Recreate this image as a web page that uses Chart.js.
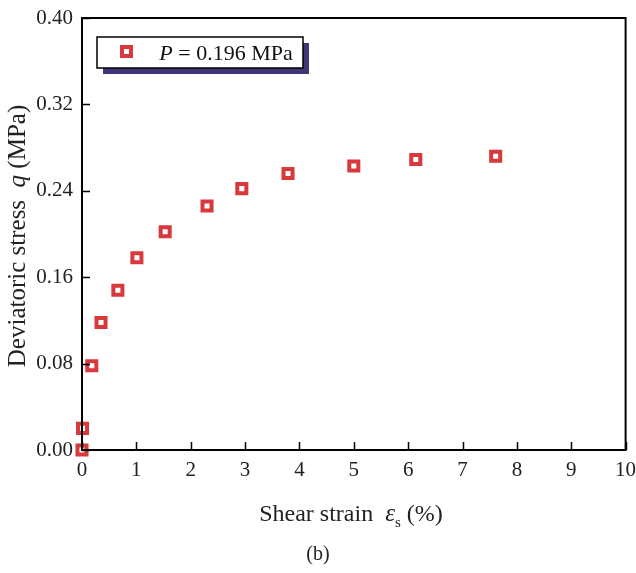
<!DOCTYPE html>
<html>
<head>
<meta charset="utf-8">
<script src="https://cdn.jsdelivr.net/npm/chart.js@4.4.1/dist/chart.umd.min.js"></script>
<style>
    html, body { margin: 0; padding: 0; background: #fff; }
    #wrap { width: 636px; height: 573px; position: relative; }
</style>
</head>
<body>
<div id="wrap"><canvas id="stress-chart" width="636" height="573"></canvas></div>
<script>
// Deviatoric stress vs shear strain, P = 0.196 MPa
const strainValues = [0, 0.01, 0.18, 0.35, 0.66, 1.01, 1.53, 2.30, 2.94, 3.79, 5.00, 6.14, 7.61];
const stressValues = [0, 0.020, 0.078, 0.118, 0.148, 0.178, 0.202, 0.226, 0.242, 0.256, 0.263, 0.269, 0.272];
const xTicks = [0, 1, 2, 3, 4, 5, 6, 7, 8, 9, 10];
const yTicks = [0, 0.08, 0.16, 0.24, 0.32, 0.40];
const seriesLabel = '0.196 MPa';

const RED = '#d7393c';
const SERIF = '"Liberation Serif", "Times New Roman", serif';

// frame, inward ticks, axis titles, legend, caption
const decorPlugin = {
    id: 'decor',
    afterDraw(chart) {
        const ctx = chart.ctx;
        const a = chart.chartArea;
        const xs = chart.scales.x;
        const ys = chart.scales.y;
        ctx.save();
        ctx.strokeStyle = '#000';
        ctx.lineWidth = 2;
        ctx.strokeRect(a.left, a.top, a.right - a.left, a.bottom - a.top);

        ctx.lineWidth = 1.5;
        ctx.beginPath();
        xTicks.forEach(v => {
            const px = Math.round(xs.getPixelForValue(v)) + 0.5;
            ctx.moveTo(px, a.bottom);
            ctx.lineTo(px, a.bottom - 8);
        });
        yTicks.forEach(v => {
            const py = Math.round(ys.getPixelForValue(v)) + 0.5;
            ctx.moveTo(a.left, py);
            ctx.lineTo(a.left + 8, py);
        });
        ctx.stroke();

        ctx.fillStyle = '#222';
        ctx.textBaseline = 'alphabetic';

        // x title
        drawParts(ctx, [
            { t: 'Shear strain  ', f: '24px ' + SERIF, dy: 0 },
            { t: 'ε', f: 'italic 25px ' + SERIF, dy: 0 },
            { t: 's', f: '15px ' + SERIF, dy: 6 },
            { t: ' (%)', f: '24px ' + SERIF, dy: 0 }
        ], 351, 521);

        // y title
        ctx.save();
        ctx.translate(25, 236);
        ctx.rotate(-Math.PI / 2);
        drawParts(ctx, [
            { t: 'Deviatoric stress  ', f: '25px ' + SERIF, dy: 0 },
            { t: 'q', f: 'italic 25px ' + SERIF, dy: 0 },
            { t: ' (MPa)', f: '25px ' + SERIF, dy: 0 }
        ], 0, 0);
        ctx.restore();

        // caption
        ctx.font = '20px ' + SERIF;
        ctx.textAlign = 'center';
        ctx.fillText('(b)', 318, 560);
        ctx.textAlign = 'left';

        // legend
        ctx.fillStyle = '#3d3676';
        ctx.fillRect(103, 43, 206, 31);
        ctx.fillStyle = '#fff';
        ctx.fillRect(97, 37, 206, 31);
        ctx.strokeStyle = '#000';
        ctx.lineWidth = 1.5;
        ctx.strokeRect(97, 37, 206, 31);
        ctx.strokeStyle = RED;
        ctx.lineWidth = 4;
        ctx.strokeRect(122, 47, 9, 9);
        ctx.fillStyle = '#111';
        drawParts(ctx, [
            { t: 'P', f: 'italic 22px ' + SERIF, dy: 0 },
            { t: ' = ' + seriesLabel, f: '22px ' + SERIF, dy: 0 }
        ], 226, 60);

        ctx.restore();
    }
};

function drawParts(ctx, parts, cx, y) {
    let total = 0;
    parts.forEach(p => { ctx.font = p.f; total += ctx.measureText(p.t).width; });
    let x = cx - total / 2;
    parts.forEach(p => {
        ctx.font = p.f;
        ctx.fillText(p.t, x, y + p.dy);
        x += ctx.measureText(p.t).width;
    });
}

new Chart(document.getElementById('stress-chart'), {
    type: 'scatter',
    data: {
        datasets: [{
            label: seriesLabel,
            data: strainValues.map((x, i) => ({ x: x, y: stressValues[i] })),
            pointStyle: 'rect',
            radius: 6.4,
            borderWidth: 4,
            borderColor: RED,
            backgroundColor: '#fff',
            clip: false
        }]
    },
    options: {
        responsive: false,
        animation: false,
        layout: { padding: { left: 0, right: 10, top: 18, bottom: 0 } },
        plugins: {
            legend: { display: false },
            tooltip: { enabled: false }
        },
        scales: {
            x: {
                type: 'linear',
                min: 0,
                max: 10,
                afterFit: s => { s.height = 123; s.paddingLeft = 0; s.paddingRight = 0; },
                afterBuildTicks: s => { s.ticks = xTicks.map(v => ({ value: v })); },
                grid: { display: false, drawTicks: false },
                border: { display: false },
                ticks: {
                    color: '#222',
                    padding: 8,
                    font: { family: SERIF, size: 21 },
                    callback: v => String(v)
                }
            },
            y: {
                type: 'linear',
                min: 0,
                max: 0.4,
                afterFit: s => { s.width = 82; s.paddingTop = 0; s.paddingBottom = 0; },
                afterBuildTicks: s => { s.ticks = yTicks.map(v => ({ value: v })); },
                grid: { display: false, drawTicks: false },
                border: { display: false },
                ticks: {
                    color: '#222',
                    padding: 9,
                    font: { family: SERIF, size: 21 },
                    callback: v => v.toFixed(2)
                }
            }
        }
    },
    plugins: [decorPlugin]
});
</script>
</body>
</html>
